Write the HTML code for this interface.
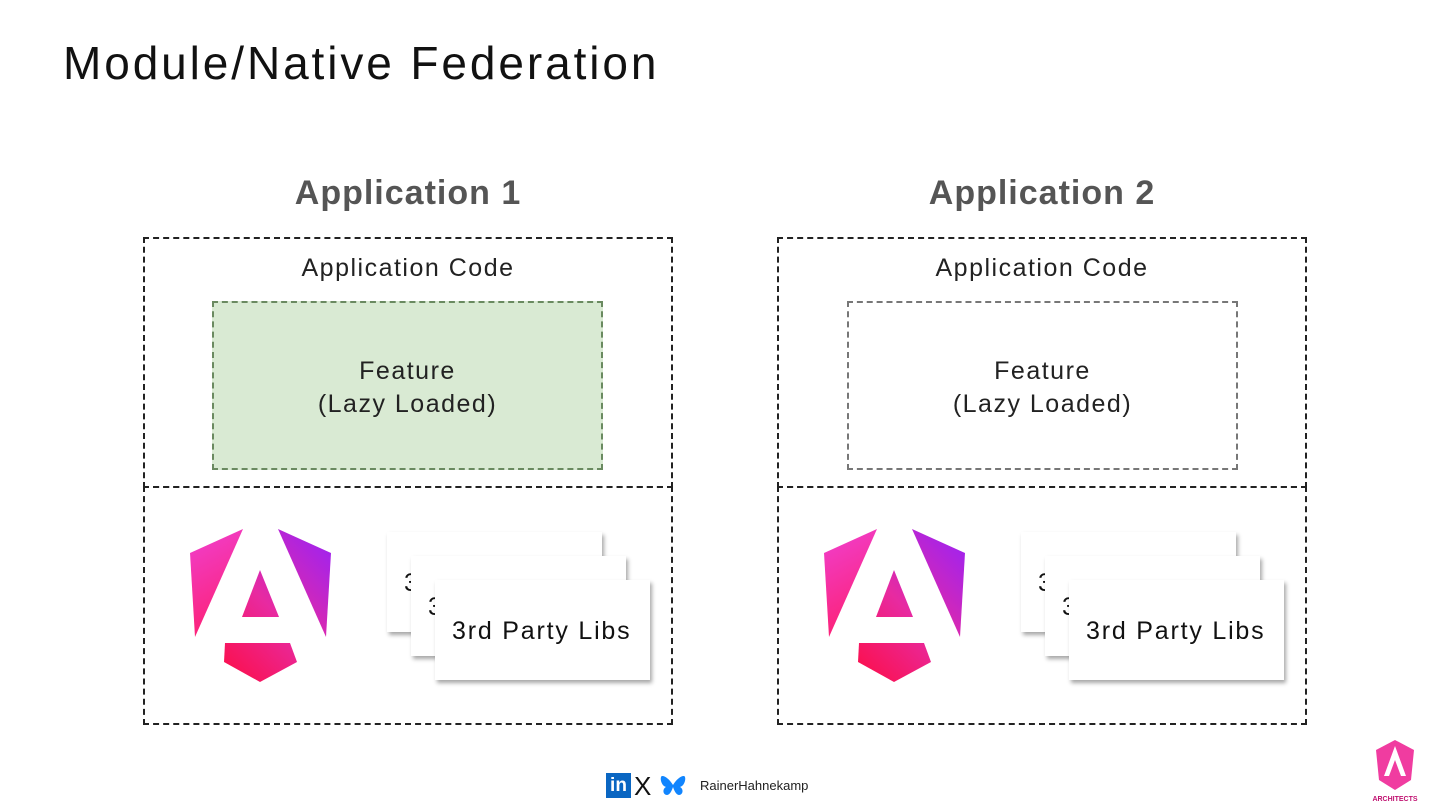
<!DOCTYPE html>
<html><head><style>
body{margin:0;width:1440px;height:810px;background:#fff;position:relative;overflow:hidden;font-family:"Liberation Sans",sans-serif;}
.a{position:absolute}
.t{font-size:46px;color:#111;left:63px;top:36px;letter-spacing:2.9px}
.h{font-size:34px;font-weight:bold;color:#555;width:530px;text-align:center;top:174px;letter-spacing:1px}
.box{border:2px dashed #222;box-sizing:border-box}
.lbl{font-size:25px;color:#222;text-align:center;letter-spacing:1.5px}
.card{background:#fff;box-shadow:2px 3px 4px rgba(0,0,0,.35);font-size:25px;color:#111;box-sizing:border-box;padding-top:37px;padding-left:17px;overflow:hidden;white-space:nowrap;letter-spacing:1.8px}
</style></head><body>
<div class="a t">Module/Native Federation</div>

<div class="a h" style="left:143px">Application 1</div>
<div class="a h" style="left:777px">Application 2</div>

<div class="a box" style="left:143px;top:237px;width:530px;height:251px"></div>
<div class="a box" style="left:143px;top:486px;width:530px;height:239px"></div>
<div class="a lbl" style="left:143px;top:254px;width:530px">Application Code</div>
<div class="a" style="left:212px;top:301px;width:391px;height:169px;background:#d9ead3;border:2px dashed #6a8a60;box-sizing:border-box"></div>
<div class="a lbl" style="left:212px;top:355px;width:391px;line-height:33px">Feature<br>(Lazy Loaded)</div>

<div class="a box" style="left:777px;top:237px;width:530px;height:251px"></div>
<div class="a box" style="left:777px;top:486px;width:530px;height:239px"></div>
<div class="a lbl" style="left:777px;top:254px;width:530px">Application Code</div>
<div class="a" style="left:847px;top:301px;width:391px;height:169px;border:2px dashed #777;box-sizing:border-box"></div>
<div class="a lbl" style="left:847px;top:355px;width:391px;line-height:33px">Feature<br>(Lazy Loaded)</div>

<svg class="a" style="left:0;top:0" width="1440" height="810">
<defs>
<linearGradient id="g" gradientUnits="userSpaceOnUse" x1="200" y1="670" x2="335" y2="540"><stop offset="0" stop-color="#ff0a3c"/><stop offset=".5" stop-color="#e82aa0"/><stop offset="1" stop-color="#9b22f5"/></linearGradient>
<linearGradient id="g2" gradientUnits="userSpaceOnUse" x1="190" y1="530" x2="250" y2="640"><stop offset="0" stop-color="#f040d0"/><stop offset="1" stop-color="#ff1a60"/></linearGradient>
<g id="ng">
<polygon points="190,553 243,529 195,637" fill="url(#g2)"/>
<polygon points="278,529 331,553 326,637" fill="url(#g)"/>
<polygon points="260,570 242,617 279,617" fill="url(#g)"/>
<polygon points="225,643 290,643 297,662 260,682 224,662" fill="url(#g)"/>
</g>
</defs>
<use href="#ng"/>
<use href="#ng" x="634"/>
</svg>

<div class="a card" style="left:387px;top:532px;width:215px;height:100px">3rd Party Libs</div>
<div class="a card" style="left:411px;top:556px;width:215px;height:100px">3rd Party Libs</div>
<div class="a card" style="left:435px;top:580px;width:215px;height:100px">3rd Party Libs</div>
<div class="a card" style="left:1021px;top:532px;width:215px;height:100px">3rd Party Libs</div>
<div class="a card" style="left:1045px;top:556px;width:215px;height:100px">3rd Party Libs</div>
<div class="a card" style="left:1069px;top:580px;width:215px;height:100px">3rd Party Libs</div>

<div class="a" style="left:606px;top:773px;width:25px;height:25px;background:#0a66c2;color:#fff;font-weight:bold;font-size:19px;line-height:26px;text-align:center">in</div>
<div class="a" style="left:634px;top:771px;font-size:26px;color:#111">X</div>
<svg class="a" style="left:659px;top:774px" width="28" height="24"><path d="M14,11 C10,4 3,0 2,3 C1,6 3,12 7,13 C3,15 4,21 8,21 C11,21 13,16 14,13 C15,16 17,21 20,21 C24,21 25,15 21,13 C25,12 27,6 26,3 C25,0 18,4 14,11Z" fill="#1185fe"/></svg>
<div class="a" style="left:700px;top:778px;font-size:13px;color:#222">RainerHahnekamp</div>
<svg class="a" style="left:1372px;top:738px" width="46" height="66">
<polygon points="23,2 42,12 39,42 23,52 7,42 4,12" fill="#f03ca0"/>
<polygon points="23,8 12,38 17,38 23,22 29,38 34,38" fill="#fff"/>
<text x="23" y="63" font-size="7" fill="#c01070" text-anchor="middle" font-family="Liberation Sans" font-weight="bold">ARCHITECTS</text>
</svg>
</body></html>
